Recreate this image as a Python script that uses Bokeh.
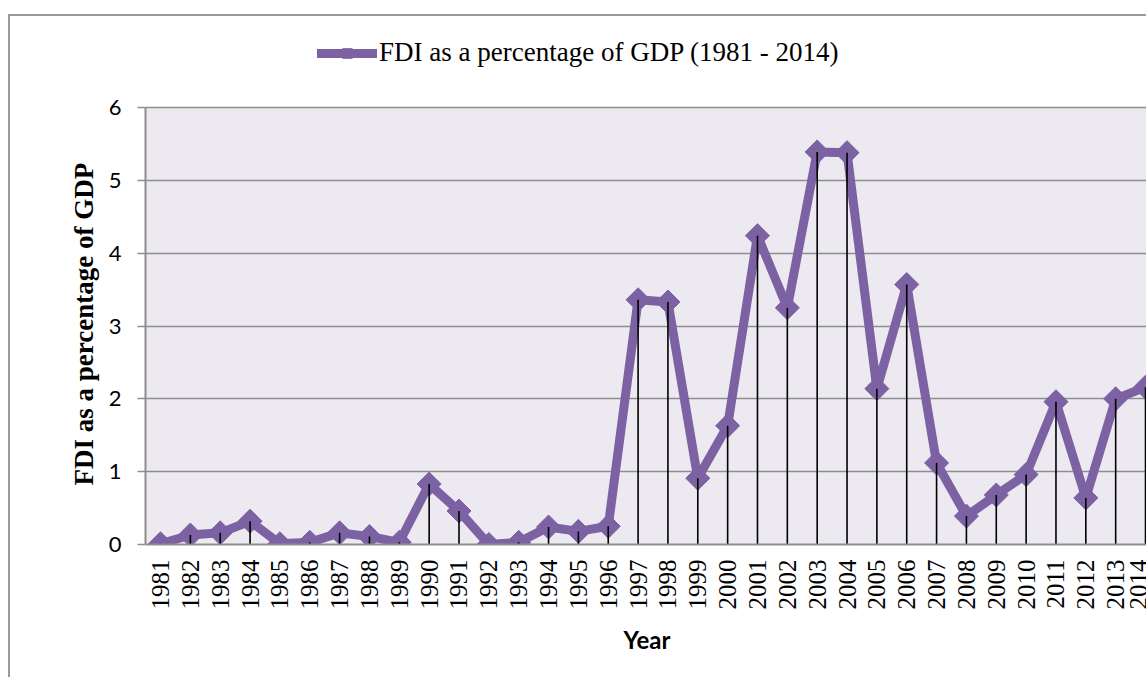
import math
from bokeh.plotting import figure
from bokeh.models import FixedTicker, Legend, LegendItem, BoxAnnotation, Title
from bokeh.embed import file_html
from bokeh.resources import INLINE

# FDI inflows as a share of GDP, 1981-2014
years = list(range(1981, 2015))
fdi_pct = [0.01, 0.13, 0.16, 0.32, 0.01, 0.03, 0.16, 0.11, 0.03, 0.83,
           0.46, 0.00, 0.03, 0.24, 0.18, 0.25, 3.36, 3.33, 0.91, 1.63,
           4.24, 3.25, 5.39, 5.38, 2.14, 3.57, 1.12, 0.39, 0.68, 0.96,
           1.96, 0.64, 2.00, 2.16]
y_ticks = [0, 1, 2, 3, 4, 5, 6]
y_max = 6
series_name = "FDI as a percentage of GDP (1981 - 2014)"

PURPLE = "#7D62A3"
GRID = "#8E8E8E"

# the frame reaches above the value axis so the legend can sit inside it
p = figure(width=1138, height=663, output_backend="svg", toolbar_location=None,
           x_range=(1980.497, 2014.1), y_range=(0, 7.181),
           min_border_left=135, min_border_right=0, min_border_top=5,
           min_border_bottom=135)
p.margin = (14, 0, 0, 8)
p.styles = {"border-top": "2px solid #9a9a9a", "border-left": "2px solid #9a9a9a"}

p.background_fill_color = "white"
p.border_fill_color = "white"
p.outline_line_color = None

# shaded plot area between 0 and the top tick
p.add_layout(BoxAnnotation(bottom=0, top=y_max, fill_color="#ECEAF0", fill_alpha=1,
                           line_color=None, level="image"))

line_r = p.line(years, fdi_pct, line_color=PURPLE, line_width=9, line_join="round", line_cap="round")
mark_r = p.scatter(years, fdi_pct, marker="square", angle=math.pi / 4, size=17,
                   fill_color=PURPLE, line_color=PURPLE, line_width=1)
# drop lines from each point down to the axis
p.segment(x0=years, y0=[0] * len(years), x1=years, y1=fdi_pct, line_color="black", line_width=1.6)

# x axis
p.xaxis.ticker = FixedTicker(ticks=years)
p.xaxis.major_label_orientation = math.pi / 2
p.xaxis.major_label_text_font = "Liberation Serif"
p.xaxis.major_label_text_font_size = "25px"
p.xaxis.major_label_text_color = "black"
p.xaxis.major_label_standoff = 15
p.xaxis.major_tick_out = 0
p.xaxis.major_tick_in = 0
p.xaxis.minor_tick_line_color = None
p.xaxis.axis_line_color = GRID
p.xaxis.axis_line_width = 2
p.xaxis.axis_label = "Year"
p.xaxis.axis_label_text_font = "Lato"
p.xaxis.axis_label_text_font_style = "bold"
p.xaxis.axis_label_text_font_size = "24px"
p.xaxis.axis_label_text_color = "black"
p.xaxis.axis_label_standoff = 12

# y axis
p.yaxis.ticker = FixedTicker(ticks=y_ticks)
p.yaxis.bounds = (0, y_max)
p.yaxis.major_label_text_font = "Lato"
p.yaxis.major_label_text_font_size = "22px"
p.yaxis.major_label_text_color = "black"
p.yaxis.major_label_standoff = 16
p.yaxis.major_tick_out = 8
p.yaxis.major_tick_in = 0
p.yaxis.major_tick_line_color = GRID
p.yaxis.major_tick_line_width = 1.5
p.yaxis.minor_tick_line_color = None
p.yaxis.axis_line_color = GRID
p.yaxis.axis_line_width = 2

# y axis title, placed along the 0..6 span
p.add_layout(Title(text="FDI as a percentage of GDP", align="left", offset=59,
                   vertical_align="bottom", standoff=14,
                   text_font="Liberation Serif", text_font_style="bold",
                   text_font_size="27px", text_color="black"), "left")

p.xgrid.grid_line_color = None
p.ygrid.grid_line_color = GRID
p.ygrid.grid_line_width = 1.5

legend = Legend(items=[LegendItem(label=series_name, renderers=[line_r, mark_r])],
                location=(172, 476), orientation="horizontal",
                padding=0, margin=0, spacing=0, label_standoff=2,
                glyph_width=60, glyph_height=24, label_height=24,
                label_text_font="Liberation Serif", label_text_font_size="27px",
                label_text_color="black",
                border_line_color=None, background_fill_alpha=0)
p.add_layout(legend, "center")

open("out.html", "w").write(file_html(p, INLINE))
